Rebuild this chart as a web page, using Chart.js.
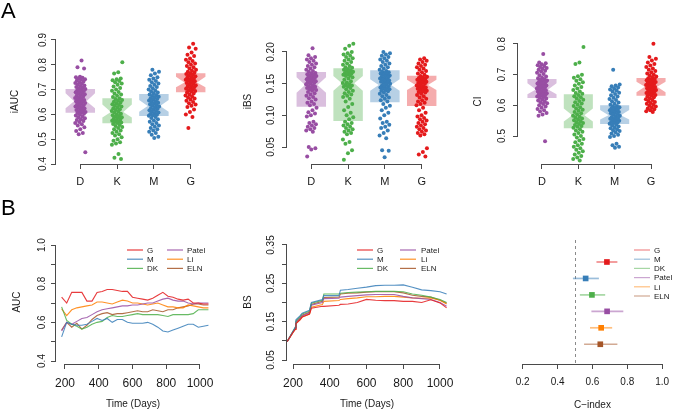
<!DOCTYPE html>
<html><head><meta charset="utf-8">
<script src="https://cdn.jsdelivr.net/npm/chart.js@4.4.1/dist/chart.umd.min.js"></script>
<style>
html,body{margin:0;padding:0;background:#fff;}
#wrap{position:relative;width:677px;height:411px;overflow:hidden;background:#fff;font-family:"Liberation Sans",Arial,Helvetica,sans-serif;}
#wrap canvas{position:absolute;left:0;top:0;}
.tag{position:absolute;left:1px;font-size:22px;line-height:22px;color:#000;}
</style></head><body>
<div id="wrap">
<canvas id="a1" width="677" height="411"></canvas>
<canvas id="a2" width="677" height="411"></canvas>
<canvas id="a3" width="677" height="411"></canvas>
<canvas id="b1" width="677" height="411"></canvas>
<canvas id="b2" width="677" height="411"></canvas>
<canvas id="b3" width="677" height="411"></canvas>
<div class="tag" style="top:0px">A</div>
<div class="tag" style="top:197px">B</div>
</div>
<script>
// ================= DATA =================
const groups = ['D', 'K', 'M', 'G'];

// ---- iAUC ----
const iaucTicks = [0.4, 0.5, 0.6, 0.7, 0.8, 0.9];
const iaucTickLabels = ['0.4', '0.5', '0.6', '0.7', '0.8', '0.9'];
const iaucD = [0.817,0.790,0.785,0.752,0.750,0.748,0.745,0.742,0.740,0.737,0.733,0.730,0.727,0.724,0.720,0.717,0.714,0.710,0.708,0.705,0.702,
0.699,0.697,0.694,0.692,0.689,0.686,0.683,0.681,0.678,0.675,0.672,0.669,0.666,0.664,0.661,0.658,0.656,0.653,
0.651,0.648,0.646,0.643,0.640,0.637,0.635,0.632,0.629,0.627,0.624,0.621,0.618,0.616,0.613,0.610,0.608,0.606,
0.603,0.600,0.596,0.592,0.588,0.584,0.580,0.577,0.573,0.569,0.565,0.560,0.555,0.548,0.540,0.533,0.525,0.520,0.447];
const iaucK = [0.810,0.770,0.765,0.745,0.742,0.738,0.735,0.730,0.725,0.720,0.712,0.706,0.700,0.695,0.690,0.684,0.680,0.675,0.670,
0.665,0.662,0.658,0.655,0.651,0.648,0.645,0.641,0.638,0.635,0.632,0.628,0.625,0.621,0.618,0.614,0.611,0.608,
0.603,0.600,0.597,0.594,0.591,0.588,0.585,0.582,0.579,0.576,0.574,0.571,0.569,0.567,0.565,
0.561,0.557,0.553,0.549,0.545,0.540,0.535,0.530,0.525,0.520,0.515,0.508,0.500,0.494,0.488,0.483,0.478,0.440,0.425,0.420];
const iaucM = [0.780,0.772,0.765,0.758,0.750,0.745,0.740,0.735,0.730,0.725,0.720,0.715,0.710,0.705,0.700,0.696,0.692,0.688,0.685,
0.680,0.677,0.674,0.671,0.668,0.665,0.662,0.659,0.656,0.653,0.650,0.647,0.644,0.641,0.638,0.636,
0.632,0.629,0.626,0.623,0.620,0.617,0.614,0.611,0.608,0.605,0.602,0.599,0.597,0.595,
0.590,0.585,0.580,0.575,0.570,0.565,0.560,0.555,0.550,0.545,0.540,0.535,0.530,0.525,0.518,0.510,0.505];
const iaucG = [0.885,0.870,0.865,0.850,0.840,0.835,0.825,0.820,0.815,0.810,0.805,0.800,0.795,0.790,0.785,0.780,0.776,0.772,0.769,
0.766,0.763,0.760,0.757,0.754,0.751,0.748,0.745,0.742,0.740,0.738,0.736,0.734,
0.730,0.727,0.724,0.721,0.718,0.715,0.712,0.709,0.706,0.703,0.700,0.697,0.694,0.692,
0.688,0.684,0.680,0.676,0.672,0.668,0.664,0.660,0.655,0.650,0.645,0.640,0.635,0.630,0.620,0.610,0.600,0.590,0.545];
const iaucQ1 = [0.607, 0.564, 0.594, 0.689];
const iaucMed = [0.653, 0.610, 0.634, 0.729];
const iaucQ3 = [0.702, 0.665, 0.682, 0.766];
const iaucNotchLo = [0.625, 0.587, 0.611, 0.709];
const iaucNotchHi = [0.685, 0.640, 0.658, 0.752];

// ---- iBS ----
const ibsTicks = [0.05, 0.10, 0.15, 0.20];
const ibsTickLabels = ['0.05', '0.10', '0.15', '0.20'];
const ibsD = [0.206,0.195,0.192,0.190,0.188,0.186,0.184,0.182,0.180,0.178,0.176,0.174,0.172,0.170,0.169,
0.167,0.166,0.165,0.164,0.163,0.162,0.161,0.160,0.159,0.158,0.157,0.156,0.155,0.154,0.153,0.152,0.151,0.150,0.149,
0.147,0.146,0.145,0.144,0.143,0.142,0.141,0.140,0.139,0.137,0.135,0.133,0.131,0.129,0.127,0.125,0.122,0.120,0.118,0.116,
0.112,0.108,0.105,0.103,0.100,0.098,0.090,0.088,0.086,0.084,0.082,0.080,0.078,0.076,0.074,0.050,0.048,0.046,0.035];
const ibsK = [0.213,0.210,0.205,0.200,0.198,0.196,0.194,0.192,0.190,0.188,0.186,0.184,0.182,0.180,0.178,0.176,0.175,
0.173,0.172,0.171,0.170,0.169,0.168,0.167,0.166,0.165,0.164,0.163,0.162,0.160,0.158,0.156,0.154,0.152,0.151,
0.149,0.148,0.147,0.146,0.145,0.143,0.141,0.139,0.137,0.135,0.133,0.131,0.129,0.126,0.122,0.118,0.113,0.108,0.104,0.100,0.097,0.094,
0.090,0.088,0.086,0.084,0.082,0.080,0.078,0.076,0.074,0.072,0.070,0.062,0.058,0.055,0.045,0.040,0.030];
const ibsM = [0.200,0.198,0.196,0.194,0.192,0.190,0.188,0.186,0.184,0.182,0.180,0.178,0.176,0.174,0.172,
0.170,0.169,0.168,0.167,0.166,0.165,0.164,0.163,0.162,0.161,0.160,0.159,0.158,0.157,0.156,0.155,0.154,0.153,0.152,0.151,0.150,0.149,
0.147,0.146,0.145,0.144,0.143,0.142,0.141,0.140,0.139,0.138,0.136,0.134,0.132,0.130,0.128,0.126,0.124,0.122,
0.118,0.115,0.112,0.108,0.104,0.100,0.095,0.090,0.088,0.085,0.082,0.080,0.076,0.072,0.068,0.064,0.045,0.044,0.034];
const ibsG = [0.190,0.188,0.186,0.184,0.182,0.180,0.178,0.176,0.174,0.172,0.170,0.168,0.166,0.164,
0.162,0.161,0.160,0.159,0.158,0.157,0.156,0.155,0.154,0.153,0.152,0.151,0.150,0.149,
0.147,0.146,0.145,0.144,0.143,0.142,0.141,0.140,0.139,0.138,0.137,0.136,0.134,0.132,0.130,0.128,0.126,0.124,0.122,0.120,0.118,0.116,
0.112,0.108,0.104,0.100,0.098,0.096,0.094,0.092,0.090,0.088,0.086,0.084,0.082,0.080,0.078,0.076,0.074,0.072,0.070,0.068,0.048,0.042,0.038,0.035];
const ibsQ1 = [0.1137, 0.0910, 0.1206, 0.1148];
const ibsMed = [0.1480, 0.1506, 0.1480, 0.1480];
const ibsQ3 = [0.1684, 0.1742, 0.1710, 0.1626];
const ibsNotchLo = [0.1358, 0.1390, 0.1390, 0.1400];
const ibsNotchHi = [0.1600, 0.1620, 0.1570, 0.1560];

// ---- CI ----
const ciTicks = [0.5, 0.6, 0.7, 0.8];
const ciTickLabels = ['0.5', '0.6', '0.7', '0.8'];
const ciD = [0.767,0.740,0.737,0.734,0.731,0.728,0.725,0.722,0.719,0.716,0.713,0.710,0.706,0.702,0.698,0.694,0.690,0.688,
0.685,0.683,0.681,0.679,0.677,0.675,0.673,0.671,0.669,0.667,0.665,0.663,0.661,0.659,0.657,0.655,0.653,
0.651,0.649,0.647,0.645,0.643,0.641,0.639,0.637,0.635,0.633,0.631,0.629,0.627,0.625,
0.622,0.619,0.616,0.613,0.610,0.607,0.604,0.600,0.596,0.592,0.588,0.584,0.580,0.575,0.570,0.566,0.483];
const ciK = [0.790,0.740,0.735,0.700,0.695,0.690,0.685,0.680,0.675,0.670,0.665,0.660,0.655,0.650,0.645,0.640,0.638,
0.634,0.630,0.626,0.622,0.618,0.614,0.610,0.606,0.602,0.598,0.594,0.590,0.586,0.582,0.578,0.574,0.571,
0.566,0.563,0.560,0.557,0.554,0.551,0.548,0.545,0.542,0.539,0.536,0.533,0.530,0.527,
0.522,0.518,0.514,0.510,0.505,0.500,0.495,0.490,0.485,0.480,0.475,0.470,0.465,0.460,0.455,0.450,0.445,0.440,0.435,0.430,0.425,0.420];
const ciM = [0.716,0.668,0.665,0.662,0.658,0.655,0.652,0.648,0.645,0.641,0.637,0.633,0.629,0.625,0.621,0.617,0.613,0.609,0.605,0.602,
0.598,0.596,0.594,0.592,0.590,0.588,0.586,0.584,0.582,0.580,0.578,0.576,0.574,0.572,0.570,
0.566,0.564,0.562,0.560,0.558,0.556,0.554,0.552,0.550,0.548,0.546,0.544,0.542,0.540,
0.537,0.534,0.531,0.528,0.525,0.522,0.519,0.516,0.512,0.508,0.504,0.500,0.497,0.475,0.470,0.465,0.462];
const ciG = [0.801,0.758,0.752,0.746,0.740,0.735,0.730,0.725,0.720,0.716,0.712,0.708,0.704,0.700,0.697,0.694,0.691,
0.688,0.686,0.684,0.682,0.680,0.678,0.676,0.674,0.672,0.670,0.668,0.666,0.664,0.662,
0.660,0.658,0.656,0.654,0.652,0.650,0.648,0.646,0.644,0.642,0.640,0.638,0.636,0.634,0.632,
0.629,0.626,0.623,0.620,0.617,0.614,0.611,0.608,0.605,0.602,0.599,0.596,0.593,0.590,0.587,0.584,0.581,0.578];
const ciQ1 = [0.624, 0.525, 0.539, 0.631];
const ciMed = [0.652, 0.568, 0.568, 0.661];
const ciQ3 = [0.686, 0.636, 0.600, 0.689];
const ciNotchLo = [0.636, 0.547, 0.554, 0.643];
const ciNotchHi = [0.672, 0.590, 0.585, 0.677];

// ---- Time-dependent AUC ----
const models = ['G', 'M', 'DK', 'Patel', 'Li', 'ELN'];
const dayTicks = [200, 400, 600, 800, 1000];
const dayTickLabels = ['200', '400', '600', '800', '1000'];
const aucTicks = [0.4, 0.5, 0.6, 0.7, 0.8, 0.9, 1.0];
const aucLabelVals = [0.4, 0.6, 0.8, 1.0];
const aucLabelTexts = ['0.4', '0.6', '0.8', '1.0'];
const aucDays = [180,210,240,270,300,330,360,390,420,450,480,510,540,570,600,630,660,690,720,750,780,810,840,870,900,930,960,990,1020,1050];
const aucG = [0.73,0.70,0.755,0.755,0.755,0.71,0.71,0.755,0.76,0.77,0.77,0.765,0.76,0.76,0.73,0.725,0.72,0.715,0.725,0.74,0.755,0.735,0.73,0.72,0.715,0.72,0.70,0.70,0.695,0.695];
const aucM = [0.525,0.60,0.59,0.585,0.585,0.59,0.605,0.62,0.61,0.62,0.60,0.615,0.615,0.60,0.595,0.595,0.595,0.60,0.59,0.575,0.555,0.55,0.56,0.57,0.58,0.59,0.59,0.575,0.58,0.585];
const aucDK = [0.68,0.61,0.59,0.58,0.565,0.575,0.59,0.60,0.605,0.625,0.635,0.63,0.63,0.635,0.64,0.645,0.64,0.64,0.64,0.64,0.635,0.63,0.64,0.64,0.64,0.64,0.645,0.665,0.665,0.665];
const aucPatel = [0.555,0.60,0.59,0.605,0.62,0.625,0.64,0.655,0.665,0.67,0.675,0.68,0.685,0.685,0.69,0.69,0.695,0.70,0.70,0.71,0.72,0.725,0.715,0.71,0.71,0.70,0.695,0.70,0.70,0.70];
const aucLi = [0.67,0.635,0.665,0.675,0.68,0.685,0.69,0.705,0.705,0.70,0.695,0.705,0.715,0.71,0.70,0.70,0.695,0.69,0.695,0.70,0.69,0.68,0.68,0.675,0.675,0.69,0.685,0.68,0.675,0.675];
const aucELN = [0.56,0.60,0.575,0.595,0.565,0.585,0.615,0.635,0.645,0.65,0.64,0.645,0.645,0.65,0.655,0.66,0.655,0.655,0.665,0.66,0.655,0.665,0.665,0.675,0.68,0.685,0.695,0.695,0.69,0.69];

// ---- Brier score ----
const bsTicks = [0.05, 0.10, 0.15, 0.20, 0.25, 0.30, 0.35];
const bsLabelVals = [0.05, 0.15, 0.25, 0.35];
const bsLabelTexts = ['0.05', '0.15', '0.25', '0.35'];
const bsDays = [168,200,212,216,238,250,290,300,360,368,450,458,500,550,600,650,700,750,800,850,900,950,1000,1036];
const bsG = [0.098,0.122,0.130,0.145,0.155,0.162,0.170,0.185,0.190,0.190,0.193,0.195,0.196,0.200,0.208,0.206,0.205,0.205,0.203,0.203,0.200,0.207,0.199,0.186];
const bsM = [0.098,0.125,0.135,0.155,0.165,0.172,0.180,0.200,0.208,0.218,0.218,0.232,0.234,0.237,0.240,0.244,0.245,0.245,0.246,0.240,0.233,0.231,0.228,0.222];
const bsDK = [0.098,0.125,0.135,0.152,0.163,0.170,0.178,0.198,0.206,0.222,0.222,0.224,0.226,0.227,0.228,0.229,0.229,0.229,0.228,0.222,0.219,0.214,0.208,0.200];
const bsPatel = [0.098,0.123,0.132,0.148,0.158,0.165,0.173,0.193,0.200,0.210,0.211,0.214,0.216,0.218,0.220,0.221,0.221,0.221,0.216,0.212,0.210,0.208,0.200,0.190];
const bsLi = [0.098,0.122,0.130,0.145,0.155,0.162,0.170,0.188,0.195,0.203,0.205,0.208,0.210,0.212,0.215,0.215,0.216,0.216,0.214,0.212,0.211,0.212,0.206,0.196];
const bsELN = [0.098,0.124,0.133,0.150,0.160,0.167,0.175,0.195,0.203,0.213,0.214,0.222,0.224,0.225,0.227,0.228,0.228,0.228,0.225,0.219,0.216,0.214,0.206,0.198];

// ---- C-index ----
const cTicks = [0.2, 0.4, 0.6, 0.8, 1.0];
const cTickLabels = ['0.2', '0.4', '0.6', '0.8', '1.0'];
const cEst = [0.683, 0.561, 0.597, 0.684, 0.650, 0.645];
const cLo = [0.623, 0.488, 0.528, 0.594, 0.586, 0.552];
const cHi = [0.743, 0.637, 0.673, 0.777, 0.713, 0.743];

// ================= STYLE / DRAWING =================
const FONT = '"Liberation Sans", Arial, Helvetica, sans-serif';
const AXIS = '#4a4a4a';
const TXT = '#1a1a1a';
const GCOL = ['#984EA3', '#4DAF4A', '#377EB8', '#E41A1C'];            // D K M G
const MCOL = ['#E41A1C', '#377EB8', '#4DAF4A', '#984EA3', '#FF7F00', '#A65628'];
function rgba(hex, a) { const n = parseInt(hex.slice(1), 16); return `rgba(${n >> 16},${(n >> 8) & 255},${n & 255},${a})`; }
function jit(i, g) { const f = ((i + 1) * 0.6180339887 + g * 0.37) % 1; return (f - 0.5) * 0.29; }

function makeChart(id, o) {
  const A = o.area;
  const hasY = o.yAxis !== false;
  const grid = { display: true, drawOnChartArea: false, drawTicks: true, tickLength: 5, color: AXIS, lineWidth: 1 };
  const plugin = {
    id: 'rstyle_' + id,
    beforeDatasetsDraw(chart) {
      const { ctx, chartArea: ca, scales: { x, y } } = chart;
      ctx.save();
      if (o.boxes) {
        const b = o.boxes;
        const px = v => x.getPixelForValue(v), py = v => y.getPixelForValue(v);
        b.q1.forEach((q, g) => {
          const c = g + 1, w = 0.4, wn = 0.4 * 0.42;
          const pts = [[c - w, b.q1[g]], [c + w, b.q1[g]], [c + w, b.lo[g]], [c + wn, b.med[g]], [c + w, b.hi[g]],
                       [c + w, b.q3[g]], [c - w, b.q3[g]], [c - w, b.hi[g]], [c - wn, b.med[g]], [c - w, b.lo[g]]];
          ctx.beginPath();
          pts.forEach(([vx, vy], k) => { if (k) ctx.lineTo(px(vx), py(vy)); else ctx.moveTo(px(vx), py(vy)); });
          ctx.closePath();
          ctx.fillStyle = rgba(GCOL[g], 0.36);
          ctx.fill();
        });
      }
      if (o.vline != null) {
        const vx = Math.round(x.getPixelForValue(o.vline)) + 0.5;
        ctx.strokeStyle = '#8a8a8a'; ctx.lineWidth = 1; ctx.setLineDash([3, 3]);
        ctx.beginPath(); ctx.moveTo(vx, ca.top); ctx.lineTo(vx, ca.bottom); ctx.stroke();
        ctx.setLineDash([]);
      }
      ctx.restore();
    },
    afterDraw(chart) {
      const { ctx, chartArea: ca, scales: { x, y } } = chart;
      ctx.save();
      ctx.strokeStyle = AXIS; ctx.lineWidth = 1;
      const xa = Math.round(x.getPixelForValue(o.xTicks[0]) - 0.5) + 0.5;
      const xb = Math.round(x.getPixelForValue(o.xTicks[o.xTicks.length - 1]) - 0.5) + 0.5;
      const yb = Math.round(ca.bottom) + 0.5;
      ctx.beginPath(); ctx.moveTo(xa - 0.5, yb); ctx.lineTo(xb + 0.5, yb); ctx.stroke();
      if (hasY) {
        const t0 = Math.min(...o.yTicks), t1 = Math.max(...o.yTicks);
        const ya = Math.round(y.getPixelForValue(t0) - 0.5) + 0.5;
        const yc = Math.round(y.getPixelForValue(t1) - 0.5) + 0.5;
        const xl = Math.round(ca.left) - 0.5;
        ctx.beginPath(); ctx.moveTo(xl, ya + 0.5); ctx.lineTo(xl, yc - 0.5); ctx.stroke();
        ctx.fillStyle = TXT;
        ctx.font = `${o.yFont}px ${FONT}`;
        ctx.textAlign = 'center'; ctx.textBaseline = 'middle';
        o.yLabelVals.forEach((v, i) => {
          ctx.save();
          ctx.translate(ca.left - o.yLabelOff, y.getPixelForValue(v));
          ctx.rotate(-Math.PI / 2);
          ctx.fillText(o.yLabelTexts[i], 0, 0);
          ctx.restore();
        });
      }
      if (o.legend) {
        const L = o.legend;
        ctx.font = `8px ${FONT}`;
        ctx.textAlign = 'left'; ctx.textBaseline = 'middle';
        L.labels.forEach((lab, i) => {
          const col = Math.floor(i / L.perCol), row = i % L.perCol;
          const ry = L.y0 + row * L.dy;
          const c = L.cols[col];
          ctx.strokeStyle = rgba(L.colors[i], L.alpha); ctx.lineWidth = 1.2;
          ctx.beginPath(); ctx.moveTo(c[0], ry); ctx.lineTo(c[1], ry); ctx.stroke();
          ctx.fillStyle = TXT;
          ctx.fillText(lab, c[2], ry + 0.5);
        });
      }
      ctx.restore();
    }
  };

  const yScale = {
    type: 'linear', min: o.yMin, max: o.yMax, bounds: 'data', reverse: !!o.yReverse, display: hasY,
    afterBuildTicks: s => { s.ticks = (o.yTicks || []).map(v => ({ value: v })); },
    grid: grid, border: { display: false },
    ticks: { display: false, autoSkip: false }
  };
  if (hasY) {
    yScale.afterFit = s => { s.width = A.L; };
    yScale.title = { display: true, text: o.yTitle, color: TXT, font: { family: FONT, size: 10 }, padding: { top: o.yTitleX - 6, bottom: 0 } };
  }
  const xScale = {
    type: 'linear', min: o.xMin, max: o.xMax, bounds: 'data', position: 'bottom',
    afterBuildTicks: s => { s.ticks = o.xTicks.map(v => ({ value: v })); },
    afterFit: s => { s.height = 411 - A.B; },
    grid: grid, border: { display: false },
    ticks: { autoSkip: false, maxRotation: 0, minRotation: 0, padding: o.xPad, color: TXT,
             font: { family: FONT, size: o.xFont }, callback: (v, i) => o.xTickLabels[i] },
    title: o.xTitle ? { display: true, text: o.xTitle, color: TXT, font: { family: FONT, size: 10 }, padding: { top: 0, bottom: o.xTitlePadB } } : { display: false }
  };

  return new Chart(document.getElementById(id), {
    type: 'scatter',
    data: { datasets: o.datasets },
    options: {
      responsive: false, animation: false, devicePixelRatio: 1, events: [],
      layout: { padding: { left: hasY ? 0 : A.L, top: A.T, right: 677 - A.R, bottom: 0 } },
      plugins: { legend: { display: false }, tooltip: { enabled: false } },
      scales: { x: xScale, y: yScale }
    },
    plugins: [plugin]
  });
}

function stripSets(lists) {
  return lists.map((vals, g) => ({
    data: vals.map((v, i) => ({ x: g + 1 + jit(i, g), y: v })),
    backgroundColor: GCOL[g], borderWidth: 0, pointRadius: 2, pointHoverRadius: 2
  }));
}
function lineSets(xs, series) {
  return series.map((vals, k) => ({
    data: vals.map((v, i) => ({ x: xs[i], y: v })),
    showLine: true, borderColor: rgba(MCOL[k], 0.85), borderWidth: 1.1, pointRadius: 0, tension: 0, fill: false
  }));
}

// ---- Panel A ----
const catCommon = { xMin: 0.34, xMax: 4.66, xTicks: [1, 2, 3, 4], xTickLabels: groups, xFont: 11, xPad: 6, yFont: 10 };
makeChart('a1', Object.assign({}, catCommon, {
  area: { L: 56, T: 39, R: 215, B: 164 }, yMin: 0.4, yMax: 0.904,
  yTicks: iaucTicks, yLabelVals: iaucTicks, yLabelTexts: iaucTickLabels, yLabelOff: 13, yTitle: 'iAUC', yTitleX: 15,
  boxes: { q1: iaucQ1, med: iaucMed, q3: iaucQ3, lo: iaucNotchLo, hi: iaucNotchHi },
  datasets: stripSets([iaucD, iaucK, iaucM, iaucG])
}));
makeChart('a2', Object.assign({}, catCommon, {
  area: { L: 287, T: 39, R: 446, B: 164 }, yMin: 0.0232, yMax: 0.2205,
  yTicks: ibsTicks, yLabelVals: ibsTicks, yLabelTexts: ibsTickLabels, yLabelOff: 15.5, yTitle: 'iBS', yTitleX: 248,
  boxes: { q1: ibsQ1, med: ibsMed, q3: ibsQ3, lo: ibsNotchLo, hi: ibsNotchHi },
  datasets: stripSets([ibsD, ibsK, ibsM, ibsG])
}));
makeChart('a3', Object.assign({}, catCommon, {
  area: { L: 518, T: 39, R: 677, B: 164 }, yMin: 0.4087, yMax: 0.8163,
  yTicks: ciTicks, yLabelVals: ciTicks, yLabelTexts: ciTickLabels, yLabelOff: 16, yTitle: 'CI', yTitleX: 478,
  boxes: { q1: ciQ1, med: ciMed, q3: ciQ3, lo: ciNotchLo, hi: ciNotchHi },
  datasets: stripSets([ciD, ciK, ciM, ciG])
}));

// ---- Panel B ----
makeChart('b1', {
  area: { L: 56, T: 240, R: 210, B: 364 }, xMin: 146.7, xMax: 1059.3, yMin: 0.3845, yMax: 1.026,
  xTicks: dayTicks, xTickLabels: dayTickLabels, xFont: 12, xPad: 7, xTitle: 'Time (Days)', xTitlePadB: 1,
  yTicks: aucTicks, yLabelVals: aucLabelVals, yLabelTexts: aucLabelTexts, yFont: 10, yLabelOff: 14, yTitle: 'AUC', yTitleX: 17,
  legend: { labels: models, colors: MCOL, alpha: 0.85, perCol: 3, y0: 250, dy: 9.2, cols: [[127, 143, 147], [167, 183, 187]] },
  datasets: lineSets(aucDays, [aucG, aucM, aucDK, aucPatel, aucLi, aucELN])
});
makeChart('b2', {
  area: { L: 287, T: 240, R: 447, B: 364 }, xMin: 167.3, xMax: 1038.1, yMin: 0.0396, yMax: 0.363,
  xTicks: dayTicks, xTickLabels: dayTickLabels, xFont: 12, xPad: 7, xTitle: 'Time (Days)', xTitlePadB: 1,
  yTicks: bsTicks, yLabelVals: bsLabelVals, yLabelTexts: bsLabelTexts, yFont: 10, yLabelOff: 16, yTitle: 'BS', yTitleX: 248,
  legend: { labels: models, colors: MCOL, alpha: 0.85, perCol: 3, y0: 250, dy: 9.2, cols: [[357, 373, 377], [400, 416, 421]] },
  datasets: lineSets(bsDays, [bsG, bsM, bsDK, bsPatel, bsLi, bsELN])
});
const cBars = models.map((m, k) => ({
  data: [{ x: cLo[k], y: k + 1 }, { x: cHi[k], y: k + 1 }],
  showLine: true, borderColor: rgba(MCOL[k], 0.5), borderWidth: 1.7, pointRadius: 0, tension: 0, fill: false
}));
const cPoints = {
  data: cEst.map((v, k) => ({ x: v, y: k + 1 })),
  pointStyle: 'rect', pointRadius: 4, pointHoverRadius: 4, borderWidth: 0,
  backgroundColor: MCOL
};
makeChart('b3', {
  area: { L: 517, T: 240, R: 676, B: 364 }, xMin: 0.1673, xMax: 1.0327, yMin: -0.337, yMax: 7.2, yReverse: true, yAxis: false,
  xTicks: cTicks, xTickLabels: cTickLabels, xFont: 10, xPad: 7.7, xTitle: 'C\u2212index', xTitlePadB: 0,
  vline: 0.5,
  legend: { labels: models, colors: MCOL, alpha: 0.5, perCol: 6, y0: 250, dy: 9.2, cols: [[634, 650, 654]] },
  datasets: cBars.concat([cPoints])
});
</script>
</body></html>
